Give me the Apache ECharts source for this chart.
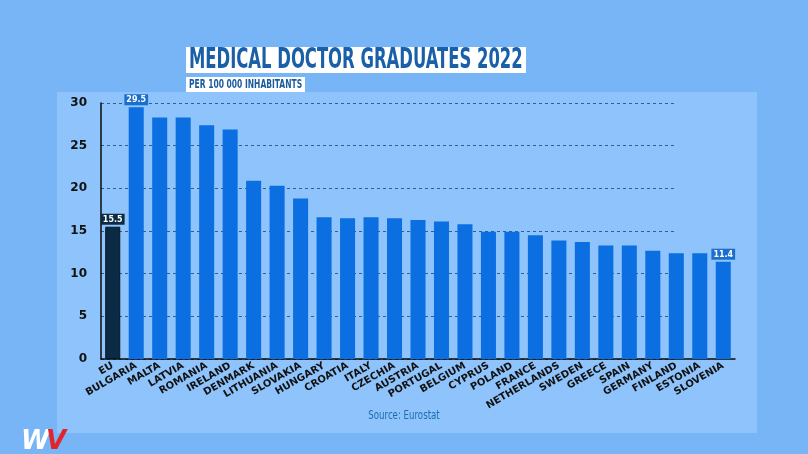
<!DOCTYPE html>
<html>
<head>
<meta charset="utf-8">
<title>Medical doctor graduates 2022</title>
<script src="https://cdn.jsdelivr.net/npm/echarts@6/dist/echarts.min.js"></script>
<style>
  html, body { margin: 0; padding: 0; background: #78b5f6; }
  #main { width: 808px; height: 454px; }
</style>
</head>
<body>
<div id="main"></div>
<script>
// data
const countries = ['EU', 'BULGARIA', 'MALTA', 'LATVIA', 'ROMANIA', 'IRELAND', 'DENMARK',
  'LITHUANIA', 'SLOVAKIA', 'HUNGARY', 'CROATIA', 'ITALY', 'CZECHIA', 'AUSTRIA', 'PORTUGAL',
  'BELGIUM', 'CYPRUS', 'POLAND', 'FRANCE', 'NETHERLANDS', 'SWEDEN', 'GREECE', 'SPAIN',
  'GERMANY', 'FINLAND', 'ESTONIA', 'SLOVENIA'];
const graduates = [15.5, 29.5, 28.3, 28.3, 27.4, 26.9, 20.9,
  20.3, 18.8, 16.6, 16.5, 16.6, 16.5, 16.3, 16.1,
  15.8, 14.9, 14.9, 14.5, 13.9, 13.7, 13.3, 13.3,
  12.7, 12.4, 12.4, 11.4];
const labelled = ['EU', 'BULGARIA', 'SLOVENIA'];
const yTicks = [0, 5, 10, 15, 20, 25, 30];

const chart = echarts.init(document.getElementById('main'));

const barData = countries.map((c, i) => {
  const isEU = c === 'EU';
  const item = {
    value: graduates[i],
    itemStyle: isEU
      ? { color: '#0b2b45', borderColor: '#061622', borderWidth: 1 }
      : { color: '#0b6fe2' }
  };
  if (labelled.includes(c)) {
    item.label = {
      show: true,
      position: 'top',
      distance: 2,
      color: '#fff',
      fontSize: 8,
      fontWeight: 'bold',
      fontFamily: 'DejaVu Sans',
      backgroundColor: isEU ? '#0b2b45' : '#1a6fcd',
      padding: [2, 2, 1, 2]
    };
  }
  return item;
});

const condensed = '"Liberation Sans Narrow", "DejaVu Sans Condensed", sans-serif';

const option = {
  backgroundColor: '#78b5f6',
  animation: false,
  graphic: [
    { type: 'rect', z: -10, shape: { x: 57, y: 92, width: 700, height: 341 }, style: { fill: '#8fc3fb' } },
    { type: 'rect', shape: { x: 186, y: 47, width: 340, height: 26 }, style: { fill: '#ffffff' } },
    { type: 'text', x: 189, y: 61, scaleX: 0.652,
      style: { text: 'MEDICAL DOCTOR GRADUATES 2022', fill: '#1a60a8',
        font: 'bold 28px ' + condensed, textVerticalAlign: 'middle' } },
    { type: 'rect', shape: { x: 186, y: 77, width: 119, height: 15 }, style: { fill: '#ffffff' } },
    { type: 'text', x: 189, y: 85, scaleX: 0.7,
      style: { text: 'PER 100 000 INHABITANTS', fill: '#1a5a9c',
        font: 'bold 12px ' + condensed, textVerticalAlign: 'middle' } },
    { type: 'text', x: 404, y: 416, scaleX: 0.8,
      style: { text: 'Source: Eurostat', fill: '#1d6cb0', font: '12px ' + condensed,
        textAlign: 'center', textVerticalAlign: 'middle' } },
    { type: 'text', x: 21, y: 442,
      style: { text: 'W', fill: '#ffffff', font: 'bold italic 26px "DejaVu Sans"', textVerticalAlign: 'middle' } },
    { type: 'text', x: 46, y: 442,
      style: { text: 'V', fill: '#e0262b', font: 'bold italic 26px "DejaVu Sans"', textVerticalAlign: 'middle' } }
  ],
  grid: [
    { left: 101, right: 73, top: 103, bottom: 95 },
    { left: 101, right: 131, top: 103, bottom: 95 }
  ],
  xAxis: [
    {
      type: 'category',
      data: countries,
      gridIndex: 0,
      axisLine: { lineStyle: { color: '#0a0a0a', width: 1.5 } },
      axisTick: { show: false },
      axisLabel: {
        interval: 0, rotate: 30, margin: 6,
        color: '#111', fontSize: 10, fontWeight: 'bold', fontFamily: 'DejaVu Sans'
      }
    },
    { type: 'value', gridIndex: 1, min: 0, max: 1, show: false }
  ],
  yAxis: [
    {
      type: 'value',
      gridIndex: 0,
      min: 0, max: 30, interval: 5,
      axisLine: { show: true, lineStyle: { color: '#0a0a0a', width: 1.5 } },
      axisTick: { show: false },
      splitLine: { show: false },
      axisLabel: {
        margin: 14, color: '#111', fontSize: 12, fontWeight: 'bold', fontFamily: 'DejaVu Sans',
        formatter: v => (yTicks.includes(v) ? String(v) : '')
      }
    },
    {
      type: 'value',
      gridIndex: 1,
      min: 0, max: 30, interval: 5,
      axisLine: { show: false },
      axisTick: { show: false },
      axisLabel: { show: false },
      splitLine: { show: true, lineStyle: { color: '#2f5f8e', width: 1, type: [3, 3] } }
    }
  ],
  series: [
    {
      type: 'bar',
      xAxisIndex: 0,
      yAxisIndex: 0,
      data: barData,
      barWidth: '64%'
    },
    { type: 'line', xAxisIndex: 1, yAxisIndex: 1, data: [], silent: true }
  ]
};

chart.setOption(option);
</script>
</body>
</html>
